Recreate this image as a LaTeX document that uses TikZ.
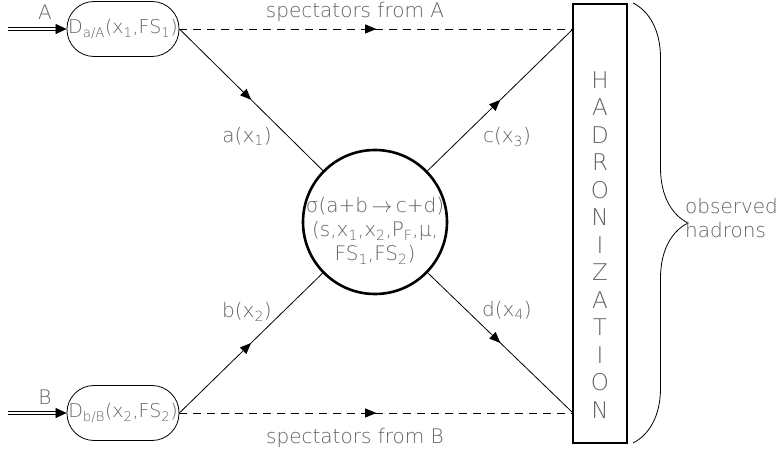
\documentclass[tikz,border=0pt]{standalone}
\usepackage{fontspec}
\newfontfamily\hershey{DejaVu Sans ExtraLight}
\usetikzlibrary{arrows.meta,decorations.markings,decorations.pathreplacing}

\providecommand{\colorText}{black!62}
\providecommand{\thinline}{0.8pt}
\providecommand{\thickline}{2.6pt}
\newcommand{\sbs}[1]{\textsubscript{#1}}

\begin{document}
\begin{tikzpicture}[
    x=1pt, y=1pt,
    % Text style
    every node/.style={font=\hershey\fontsize{20}{24}\selectfont, text=\colorText},
    % Node styles
    pdfbox/.style={
        draw=black, text=\colorText,
        line width=\thinline,
        rounded corners=27pt,
        minimum width=112pt, minimum height=55pt,
        inner sep=0pt,
        font=\hershey\fontsize{19}{24}\selectfont
    },
    hardbox/.style={
        circle, draw=black,
        line width=\thickline,
        minimum size=144pt,
        inner sep=0pt
    },
    hadrbox/.style={
        draw=black,
        line width=\thickline,
        minimum width=54pt, minimum height=439pt
    },
    hadrletter/.style={font=\hershey\fontsize{23}{24}\selectfont},
    % Edge styles
    parton/.style={
        line width=\thinline, draw=black,
        postaction={decorate},
        decoration={markings,
            mark=at position 0.5 with {\arrow{Triangle[length=11pt,width=9pt]}}}
    },
    spectator/.style={parton, dash pattern=on 8pt off 6pt},
    beam/.style={
        draw=black, line width=0.7pt,
        double, double distance=2pt,
        -{Triangle[length=11pt,width=10pt]}
    }
]
    \useasboundingbox (0,0) rectangle (778,452);

    % ==================== INCOMING HADRONS ====================
    \node[pdfbox] (pdfA) at (123,423) {D\sbs{a/A}(x\sbs{1},FS\sbs{1})};
    \node[pdfbox] (pdfB) at (123,39)  {D\sbs{b/B}(x\sbs{2},FS\sbs{2})};

    \coordinate (inA) at (8,423);
    \coordinate (inB) at (8,39);
    \draw[beam] (inA) -- (pdfA.west);
    \draw[beam] (inB) -- (pdfB.west);

    \node (labA) at (45,440) {A};
    \node (labB) at (45,55)  {B};

    % ==================== HARD SCATTERING ====================
    \node[hardbox] (hard) at (375,230) {};
    \node[align=center] (xsec) at (375,221)
        {σ(a+b$\,\rightarrow\,$c+d)\\(s,x\sbs{1},x\sbs{2},P\sbs{F},μ,\\FS\sbs{1},FS\sbs{2})};

    % ==================== HADRONIZATION ====================
    \node[hadrbox] (hadr) at (600,228.5) {};
    \foreach \ch [count=\i] in {H,A,D,R,O,N,I,Z,A,T,I,O,N}
        \node[hadrletter] (h\i) at (600,{372-27.5*(\i-1)}) {\ch};

    \coordinate (outA) at (573,423);
    \coordinate (outB) at (573,39);

    % Partons in and out
    \draw[parton] (pdfA.east) -- (hard);
    \draw[parton] (pdfB.east) -- (hard);
    \draw[parton] (hard) -- (outA);
    \draw[parton] (hard) -- (outB);

    \node (pa) at (247,316) {a(x\sbs{1})};
    \node (pb) at (247,140) {b(x\sbs{2})};
    \node (pc) at (507,315) {c(x\sbs{3})};
    \node (pd) at (507,142) {d(x\sbs{4})};

    % Spectators
    \draw[spectator] (pdfA.east) -- (outA);
    \draw[spectator] (pdfB.east) -- (outB);

    \node (specA) at (355,440) {spectators from A};
    \node (specB) at (355,14)  {spectators from B};

    % ==================== OBSERVED HADRONS ====================
    \draw[line width=\thinline, decorate, decoration={brace, amplitude=55pt}]
        (633,449) -- (633,9);
    \node[align=left, anchor=west, inner sep=0pt] (obs) at (685,234) {observed\\hadrons};

\end{tikzpicture}
\end{document}
